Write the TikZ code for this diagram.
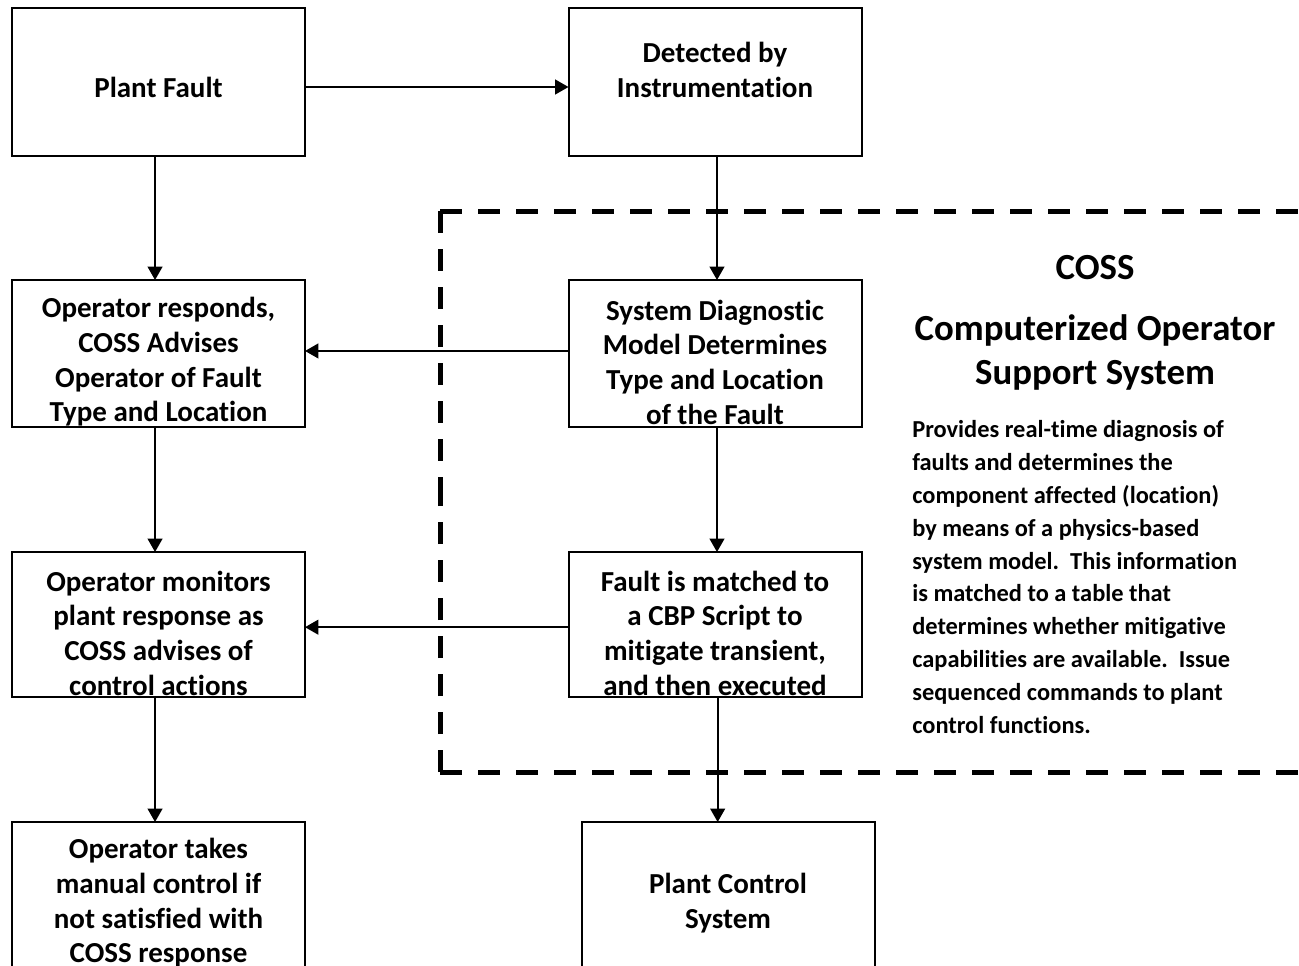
\documentclass[tikz,border=0pt]{standalone}
\usepackage{fontspec}
\setmainfont{Carlito}[Ligatures=NoCommon]
\usetikzlibrary{arrows.meta}
\begin{document}
\begin{tikzpicture}[x=0.75pt,y=-0.75pt,
  box/.style={draw,line width=1.5pt,minimum width=219.75pt,inner sep=0pt,outer sep=0pt},
  boxtext/.style={align=center,inner sep=0pt,font=\bfseries\fontsize{21.75pt}{26pt}\selectfont},
  arr/.style={line width=1.5pt,-{Triangle[length=10pt,width=11pt]}},
  frame/.style={line width=3.75pt,dash pattern=on 16.5pt off 12pt}]
\useasboundingbox (0,0) rectangle (1299,965);
\clip (0,0) rectangle (1299,965);
% boxes
\node[box,minimum height=111pt] (pf) at (158.5,82) {};
\node[box,minimum height=111pt] (det) at (715,82) {};
\node[box,minimum height=110.25pt] (or) at (158.5,353.5) {};
\node[box,minimum height=110.25pt] (sd) at (715,353.5) {};
\node[box,minimum height=108.75pt] (om) at (158.5,624.5) {};
\node[box,minimum height=108.75pt] (fm) at (715,624.5) {};
\node[box,minimum height=120pt] (ot) at (158.5,902) {};
\node[box,minimum height=120pt] (pcs) at (728,902) {};
% texts
\node[boxtext] (tpf) at (158.5,87) {Plant Fault};
\node[boxtext] (tdet) at (715,70) {Detected by\\Instrumentation};
\node[boxtext] (tor) at (158.5,362) {Operator responds,\\COSS Advises\\Operator of Fault\\Type and Location};
\node[boxtext] (tsd) at (715,362) {System Diagnostic\\Model Determines\\Type and Location\\of the Fault};
\node[boxtext] (tom) at (158.5,633) {Operator monitors\\plant response as\\COSS advises of\\control actions};
\node[boxtext] (tfm) at (715,633) {Fault is matched to\\a CBP Script to\\mitigate transient,\\and then executed};
\node[boxtext] (tot) at (158.5,903) {Operator takes\\manual control if\\not satisfied with\\COSS response};
\node[boxtext] (tpcs) at (728,903) {Plant Control\\System};
% connectors
\draw[arr] ([yshift=-3.75pt]pf.east) -- ([yshift=-3.75pt]det.west);
\draw[arr] ([xshift=-2.6pt]pf.south) -- ([xshift=-2.6pt]or.north);
\draw[arr] ([xshift=1.5pt]det.south) -- ([xshift=1.5pt]sd.north);
\draw[arr] ([yshift=1.9pt]sd.west) -- ([yshift=1.9pt]or.east);
\draw[arr] ([xshift=-2.6pt]or.south) -- ([xshift=-2.6pt]om.north);
\draw[arr] ([xshift=1.5pt]sd.south) -- ([xshift=1.5pt]fm.north);
\draw[arr] ([yshift=-2pt]fm.west) -- ([yshift=-2pt]om.east);
\draw[arr] ([xshift=-2.6pt]om.south) -- ([xshift=-2.6pt]ot.north);
\draw[arr] ([xshift=2pt]fm.south) -- ([xshift=2pt]fm.south |- pcs.north);
% COSS dashed frame
\coordinate (dtl) at (440,211);
\coordinate (dtr) at (1330,211);
\coordinate (dbl) at (440,772);
\coordinate (dbr) at (1330,772);
\coordinate (dml) at (440,491.5);
\draw[frame] (dtl) -- (dtr);
\draw[frame] (dbl) -- (dbr);
\draw[frame] (dtl) -- (dml);
\draw[frame] (dbl) -- (dml);
% COSS description
\node[inner sep=0pt,font=\bfseries\fontsize{27.6pt}{33pt}\selectfont] (coss) at (1095,268) {COSS};
\node[align=center,inner sep=0pt,font=\bfseries\fontsize{27.6pt}{33pt}\selectfont] (cossname) at (1095,352) {Computerized Operator\\Support System};
\node[align=left,anchor=west,inner sep=0pt,font=\bfseries\fontsize{18.3pt}{24.6pt}\selectfont] (cossdesc) at (912,577) {Provides real-time diagnosis of\\faults and determines the\\component affected (location)\\by means of a physics-based\\system model.\ \ This information\\is matched to a table that\\determines whether mitigative\\capabilities are available.\ \ Issue\\sequenced commands to plant\\control functions.};
\end{tikzpicture}
\end{document}
